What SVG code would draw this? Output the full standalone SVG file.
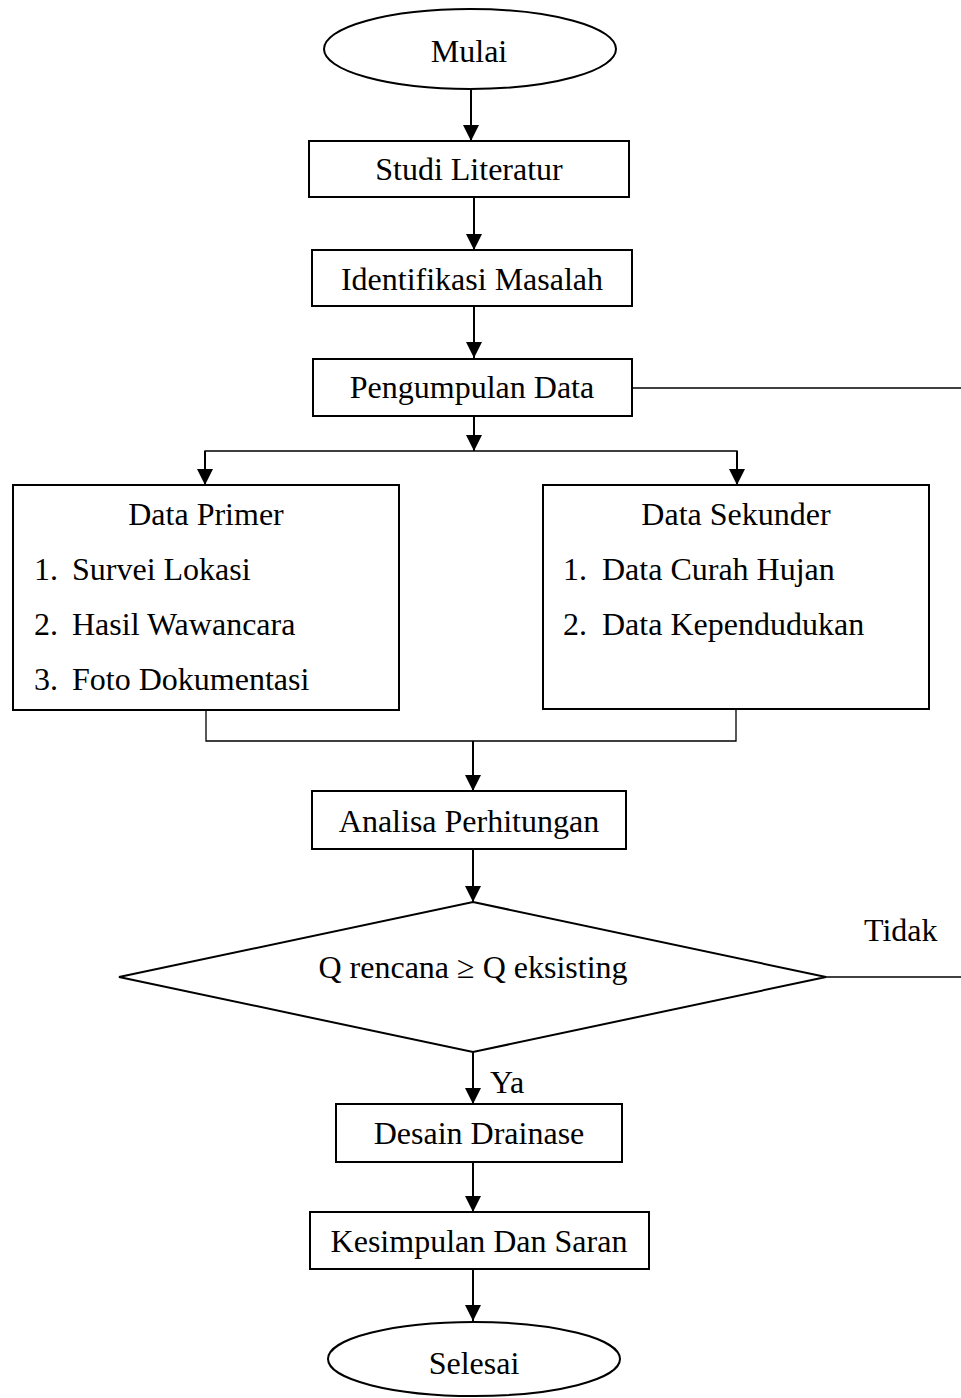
<svg xmlns="http://www.w3.org/2000/svg" width="961" height="1398" viewBox="0 0 961 1398">
<style>
.box{fill:#fff;stroke:#000;stroke-width:2}
.t{font-family:"Liberation Serif","Times New Roman",serif;font-size:32px;fill:#000}
.c{text-anchor:middle}
.ln{fill:none;stroke:#000;stroke-width:2}
.thin{fill:none;stroke:#000;stroke-width:1.3}
</style>
<defs>
<marker id="ah" viewBox="0 0 16 16" refX="16" refY="8" markerWidth="16" markerHeight="16" markerUnits="userSpaceOnUse" orient="auto">
<path d="M0,0 L16,8 L0,16 Z" fill="#000"/>
</marker>
</defs>
<rect width="961" height="1398" fill="#fff"/>
<g id="connectors">
<line class="ln" x1="471" y1="89" x2="471" y2="141" marker-end="url(#ah)"/>
<line class="ln" x1="474" y1="197" x2="474" y2="250" marker-end="url(#ah)"/>
<line class="ln" x1="474" y1="306" x2="474" y2="358" marker-end="url(#ah)"/>
<line class="thin" x1="632" y1="388" x2="961" y2="388"/>
<line class="ln" x1="474" y1="417" x2="474" y2="451" marker-end="url(#ah)"/>
<polyline class="thin" points="205,470 205,451 737,451 737,470"/>
<line class="ln" x1="205" y1="451" x2="205" y2="485" marker-end="url(#ah)"/>
<line class="ln" x1="737" y1="451" x2="737" y2="485" marker-end="url(#ah)"/>
<polyline class="thin" points="206,710 206,741 736,741 736,709"/>
<line class="ln" x1="473" y1="741" x2="473" y2="791" marker-end="url(#ah)"/>
<line class="ln" x1="473" y1="849" x2="473" y2="902" marker-end="url(#ah)"/>
<line class="thin" x1="826" y1="977" x2="961" y2="977"/>
<text class="t" x="864" y="941">Tidak</text>
<line class="ln" x1="473" y1="1052" x2="473" y2="1104" marker-end="url(#ah)"/>
<text class="t" x="490" y="1093">Ya</text>
<line class="ln" x1="473" y1="1162" x2="473" y2="1212" marker-end="url(#ah)"/>
<line class="ln" x1="473" y1="1269" x2="473" y2="1321" marker-end="url(#ah)"/>
</g>
<g id="mulai">
<ellipse class="box" cx="470" cy="49" rx="146" ry="40"/>
<text class="t c" x="469" y="62">Mulai</text>
</g>
<g id="studi">
<rect class="box" x="309" y="141" width="320" height="56"/>
<text class="t c" x="469" y="180">Studi Literatur</text>
</g>
<g id="identifikasi">
<rect class="box" x="312" y="250" width="320" height="56"/>
<text class="t c" x="472" y="290">Identifikasi Masalah</text>
</g>
<g id="pengumpulan">
<rect class="box" x="313" y="359" width="319" height="57"/>
<text class="t c" x="472" y="398">Pengumpulan Data</text>
</g>
<g id="primer">
<rect class="box" x="13" y="485" width="386" height="225"/>
<text class="t c" x="206" y="525">Data Primer</text>
<text class="t" x="34" y="580">1.</text><text class="t" x="72" y="580">Survei Lokasi</text>
<text class="t" x="34" y="635">2.</text><text class="t" x="72" y="635">Hasil Wawancara</text>
<text class="t" x="34" y="690">3.</text><text class="t" x="72" y="690">Foto Dokumentasi</text>
</g>
<g id="sekunder">
<rect class="box" x="543" y="485" width="386" height="224"/>
<text class="t c" x="736" y="525">Data Sekunder</text>
<text class="t" x="563" y="580">1.</text><text class="t" x="602" y="580">Data Curah Hujan</text>
<text class="t" x="563" y="635">2.</text><text class="t" x="602" y="635">Data Kependudukan</text>
</g>
<g id="analisa">
<rect class="box" x="312" y="791" width="314" height="58"/>
<text class="t c" x="469" y="832">Analisa Perhitungan</text>
</g>
<g id="keputusan">
<polygon class="box" points="473,902 826,977 473,1052 119,977"/>
<text class="t c" x="473" y="978">Q rencana ≥ Q eksisting</text>
</g>
<g id="desain">
<rect class="box" x="336" y="1104" width="286" height="58"/>
<text class="t c" x="479" y="1144">Desain Drainase</text>
</g>
<g id="kesimpulan">
<rect class="box" x="310" y="1212" width="339" height="57"/>
<text class="t c" x="479" y="1252">Kesimpulan Dan Saran</text>
</g>
<g id="selesai">
<ellipse class="box" cx="474" cy="1359" rx="146" ry="37"/>
<text class="t c" x="474" y="1374">Selesai</text>
</g>
</svg>
